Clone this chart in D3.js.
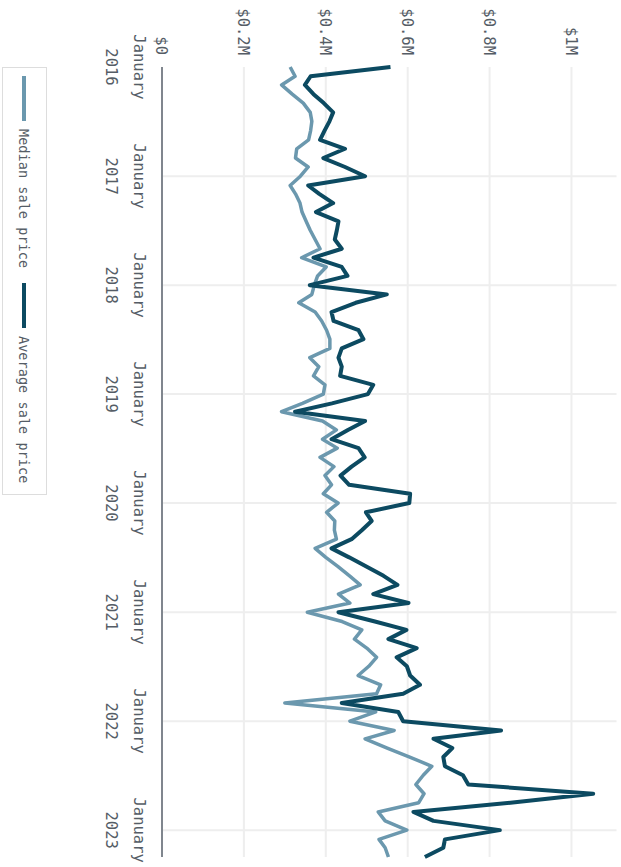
<!DOCTYPE html>
<html>
<head>
<meta charset="utf-8">
<script src="https://cdn.jsdelivr.net/npm/d3@7/dist/d3.min.js"></script>
<style>
  html, body { margin: 0; padding: 0; background: #ffffff; }
  svg { display: block; }
  text { font-family: "DejaVu Sans Mono", "Liberation Mono", monospace; }
</style>
</head>
<body>
<svg id="chart" width="621" height="867"></svg>
<script>
// ---- data (monthly, Jan 2016 – Apr 2023), values in $M ----
const firstMonth = new Date(2016, 0, 1);
const lastMonth  = new Date(2023, 3, 1);
const medianPrice = [
  0.313, 0.325, 0.292, 0.318, 0.345, 0.362, 0.366, 0.363, 0.358, 0.329, 0.326, 0.357,
  0.338, 0.313, 0.326, 0.337, 0.342, 0.352, 0.362, 0.374, 0.386, 0.341, 0.401, 0.380,
  0.372, 0.366, 0.334, 0.374, 0.390, 0.402, 0.410, 0.410, 0.361, 0.383, 0.370, 0.398,
  0.394, 0.343, 0.292, 0.392, 0.426, 0.392, 0.428, 0.386, 0.420, 0.398, 0.414, 0.394,
  0.430, 0.402, 0.422, 0.421, 0.426, 0.374, 0.400, 0.430, 0.458, 0.484, 0.431, 0.459,
  0.355, 0.440, 0.488, 0.470, 0.500, 0.524, 0.505, 0.479, 0.534, 0.524, 0.300, 0.522,
  0.459, 0.567, 0.496, 0.550, 0.605, 0.659, 0.638, 0.620, 0.640, 0.627, 0.528, 0.545,
  0.598, 0.530, 0.545, 0.553
];
const averagePrice = [
  0.558, 0.363, 0.349, 0.370, 0.395, 0.418, 0.409, 0.397, 0.386, 0.447, 0.394, 0.447,
  0.496, 0.357, 0.384, 0.418, 0.376, 0.431, 0.427, 0.422, 0.439, 0.370, 0.439, 0.453,
  0.361, 0.549, 0.473, 0.414, 0.419, 0.480, 0.492, 0.439, 0.431, 0.439, 0.435, 0.516,
  0.503, 0.415, 0.325, 0.496, 0.454, 0.414, 0.480, 0.495, 0.463, 0.436, 0.457, 0.606,
  0.604, 0.498, 0.512, 0.488, 0.463, 0.414, 0.457, 0.499, 0.541, 0.575, 0.516, 0.602,
  0.431, 0.520, 0.597, 0.553, 0.622, 0.573, 0.598, 0.606, 0.630, 0.589, 0.439, 0.577,
  0.589, 0.828, 0.663, 0.709, 0.687, 0.691, 0.735, 0.748, 1.053, 0.851, 0.614, 0.663,
  0.825, 0.691, 0.687, 0.642
];
const seriesNames = ["Median sale price", "Average sale price"];
const seriesColors = ["#6b98ae", "#0c4a61"];
const valueTicks = [0, 0.2, 0.4, 0.6, 0.8, 1.0];
const valueTickLabels = ["$0", "$0.2M", "$0.4M", "$0.6M", "$0.8M", "$1M"];
const yearTicks = ["2016", "2017", "2018", "2019", "2020", "2021", "2022", "2023"];
const monthLabel = "January";

// ---- layout (chart drawn landscape, then rotated 90° clockwise) ----
const W = 867, H = 621;
const months = d3.timeMonth.range(firstMonth, d3.timeMonth.offset(lastMonth, 1));

const svg = d3.select("#chart");
const g = svg.append("g").attr("transform", `translate(${H},0) rotate(90)`);

const x = d3.scaleTime().domain([firstMonth, lastMonth]).range([67, 857]);
const y = d3.scaleLinear().domain([0, 1.11]).range([459, 4.5]);

// value gridlines
g.append("g").selectAll("line").data(valueTicks.filter(d => d > 0)).join("line")
  .attr("x1", x.range()[0]).attr("x2", x.range()[1])
  .attr("y1", d => y(d)).attr("y2", d => y(d))
  .attr("stroke", "#eeeeee").attr("stroke-width", 2);

// year gridlines
const yearDates = yearTicks.map(t => new Date(+t, 0, 1));
g.append("g").selectAll("line").data(yearDates.slice(1)).join("line")
  .attr("x1", d => x(d)).attr("x2", d => x(d))
  .attr("y1", y.range()[0]).attr("y2", y.range()[1])
  .attr("stroke", "#eeeeee").attr("stroke-width", 2);

// time axis line
g.append("line")
  .attr("x1", x.range()[0]).attr("x2", x.range()[1])
  .attr("y1", y(0)).attr("y2", y(0))
  .attr("stroke", "#80868e").attr("stroke-width", 2);

// value tick labels
g.append("g").selectAll("text").data(valueTicks).join("text")
  .attr("x", 55).attr("y", d => y(d)).attr("dy", "0.36em")
  .attr("text-anchor", "end")
  .attr("font-size", 15.5).attr("fill", "#555d66")
  .text((d, i) => valueTickLabels[i]);

// time tick labels
const tl = g.append("g").selectAll("g").data(yearDates).join("g");
tl.append("text")
  .attr("x", d => x(d)).attr("y", 487.5)
  .attr("text-anchor", "middle").attr("font-size", 15.5).attr("fill", "#555d66")
  .text(monthLabel);
tl.append("text")
  .attr("x", d => x(d)).attr("y", 515.5)
  .attr("text-anchor", "middle").attr("font-size", 15.5).attr("fill", "#555d66")
  .text((d, i) => yearTicks[i]);

// lines
const line = d3.line().x((d, i) => x(months[i])).y(d => y(d));
[medianPrice, averagePrice].forEach((s, k) => {
  g.append("path").datum(s)
    .attr("d", line)
    .attr("fill", "none")
    .attr("stroke", seriesColors[k])
    .attr("stroke-width", k === 0 ? 3.5 : 4)
    .attr("stroke-linejoin", "round")
    .attr("stroke-linecap", "butt");
});

// legend
const lg = g.append("g");
lg.append("rect")
  .attr("x", 67.5).attr("y", 574.5).attr("width", 427).attr("height", 44)
  .attr("fill", "#ffffff").attr("stroke", "#dddddd").attr("stroke-width", 1);
const legendStarts = [76, 283];
seriesNames.forEach((name, k) => {
  const x0 = legendStarts[k];
  lg.append("line")
    .attr("x1", x0).attr("x2", x0 + 45).attr("y1", 597).attr("y2", 597)
    .attr("stroke", seriesColors[k]).attr("stroke-width", 4);
  lg.append("text")
    .attr("x", x0 + 53).attr("y", 602)
    .attr("font-size", 13.6).attr("fill", "#555d66")
    .text(name);
});
</script>
</body>
</html>
